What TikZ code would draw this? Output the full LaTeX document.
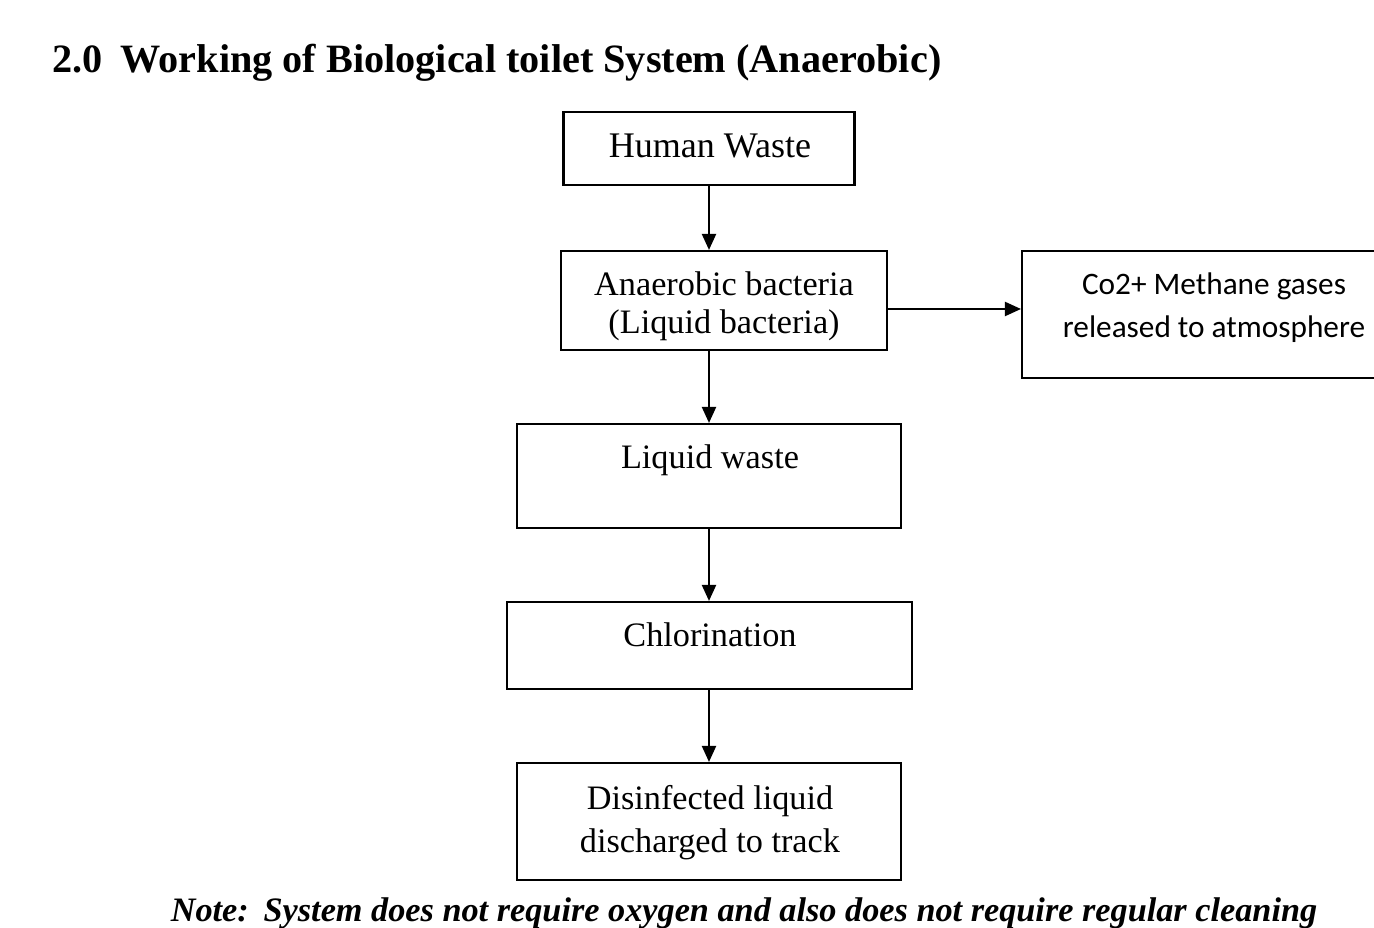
\documentclass[tikz,border=0pt]{standalone}
\usepackage{fontspec}
\setmainfont{Liberation Serif}
\newfontfamily\calib{Carlito}
\usetikzlibrary{arrows.meta}

\tikzset{
  box/.style={draw, line width=1.2pt, inner sep=0pt},
  txt/.style={font=\fontsize{19.5}{22}\selectfont, align=center, inner sep=0pt, anchor=base},
  arr/.style={line width=1.2pt, -{Triangle[length=0.32cm, width=0.28cm]}}
}

\begin{document}
\begin{tikzpicture}[x=0.02cm, y=-0.02cm]
  \useasboundingbox (0,0) rectangle (1374,928);

  % title
  \node[anchor=base west, inner sep=0pt, font=\fontsize{22.9}{26}\selectfont\bfseries] (title) at (52,73)
    {2.0\hspace{0.45em}Working of Biological toilet System (Anaerobic)};

  % boxes
  \node[box, minimum width=5.82cm, minimum height=1.46cm] (human) at (709,148.5) {};
  \node[box, minimum width=6.52cm, minimum height=1.98cm] (bact) at (724,300.5) {};
  \node[box, minimum width=7.16cm, minimum height=2.54cm] (gas) at (1201,314.5) {};
  \node[box, minimum width=7.68cm, minimum height=2.08cm] (liquid) at (709,476) {};
  \node[box, minimum width=8.10cm, minimum height=1.74cm] (chlor) at (709.5,645.5) {};
  \node[box, minimum width=7.68cm, minimum height=2.34cm] (disinf) at (709,821.5) {};

  % texts (base = last line)
  \node[txt, font=\fontsize{20.5}{22}\selectfont] (humantxt) at (710,158) {Human Waste};
  \node[txt] (bacttxt) at (724,334) {Anaerobic bacteria\\(Liquid bacteria)};
  \node[txt, font=\calib\fontsize{17.8}{25}\selectfont] (gastxt) at (1214,338)
    {Co2+ Methane gases\\released to atmosphere};
  \node[txt] (liquidtxt) at (710,469) {Liquid waste};
  \node[txt] (chlortxt) at (710,647) {Chlorination};
  \node[txt, font=\fontsize{19.5}{25}\selectfont] (disinftxt) at (710,853)
    {Disinfected liquid\\discharged to track};

  % arrows
  \draw[arr] (human.south) -- (human.south |- bact.north);
  \draw[arr] (bact.south -| liquid.north) -- (liquid.north);
  \draw[arr] (liquid.south) -- (chlor.north -| liquid.south);
  \draw[arr] (chlor.south -| liquid.south) -- (disinf.north);
  \draw[arr] ([yshift=-0.17cm]bact.east) -- ([yshift=-0.17cm]bact.east -| gas.west);

  % note
  \node[anchor=base, inner sep=0pt, font=\fontsize{19.5}{22}\selectfont\bfseries\itshape] (note) at (744,922)
    {Note:\hspace{0.1em} System does not require oxygen and also does not require regular cleaning};
\end{tikzpicture}
\end{document}
